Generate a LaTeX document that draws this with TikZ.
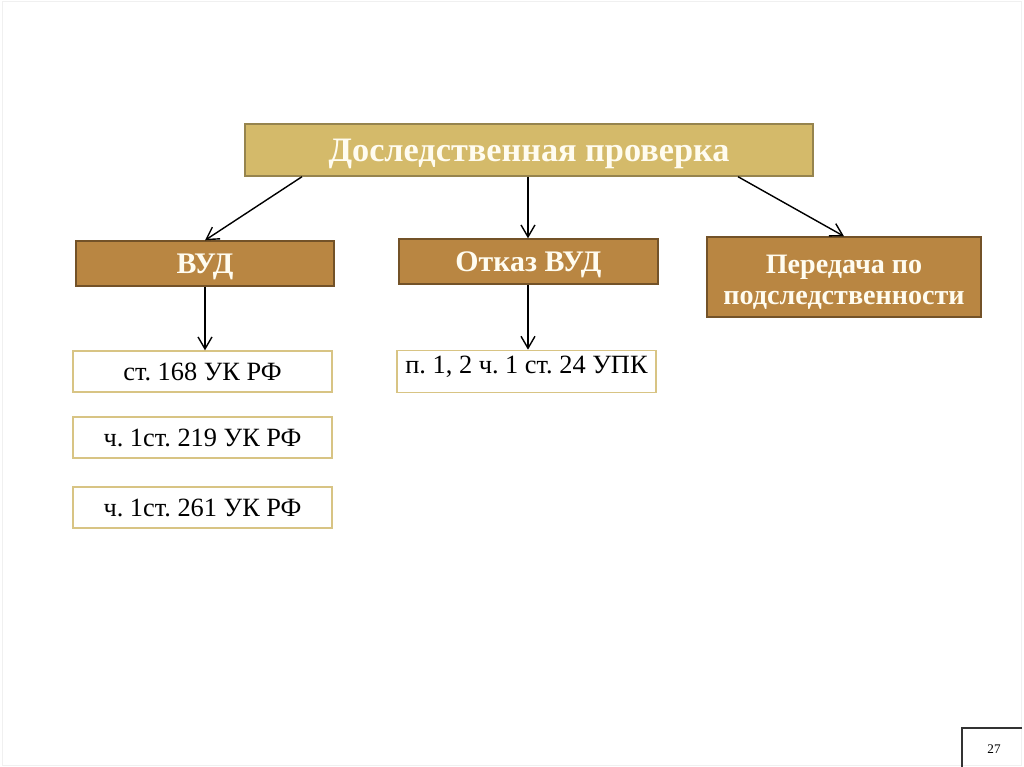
\documentclass[tikz,border=0pt]{standalone}
\usepackage{fontspec}
\setmainfont{Liberation Serif}
\usetikzlibrary{arrows.meta}
\frenchspacing

\definecolor{goldfill}{RGB}{212,186,106}
\definecolor{golddraw}{RGB}{150,132,78}
\definecolor{brownfill}{RGB}{185,134,66}
\definecolor{browndraw}{RGB}{115,82,40}
\definecolor{lightgold}{RGB}{216,196,132}
\definecolor{boxtext}{RGB}{255,252,240}

\begin{document}
\begin{tikzpicture}[x=0.02cm,y=-0.02cm,
    headbox/.style={draw=golddraw, fill=goldfill, line width=0.8pt, text=boxtext,
      font=\bfseries\fontsize{19.5}{23}\selectfont, text height=12.9pt, text depth=0pt,
      minimum width=11.36cm, minimum height=1.04cm},
    kindbox/.style={draw=browndraw, fill=brownfill, line width=0.8pt, text=boxtext,
      font=\bfseries\fontsize{17}{21}\selectfont, text height=11.2pt, text depth=0pt,
      align=center, minimum height=0.9cm},
    lawbox/.style={draw=lightgold, fill=white, line width=0.8pt,
      font=\fontsize{15}{18}\selectfont, text height=9.9pt, text depth=0pt,
      minimum width=5.18cm, minimum height=0.82cm},
    arr/.style={-{Straight Barb[length=2.4mm,width=2.8mm]}, line width=0.8pt}]

    \useasboundingbox (0,0) rectangle (1024,767);
    \draw[black!6] (2,1) rectangle (1021,765);

    % ================= TOP =================
    \node[headbox] (check) at (529,150) {Доследственная проверка};

    % ================= SECOND ROW =================
    \node[kindbox, minimum width=5.16cm] (vud) at (205,263.5) {ВУД};
    \node[kindbox, minimum width=5.18cm] (refuse) at (528.5,261.5) {Отказ ВУД};
    \node[kindbox, font=\bfseries\fontsize{16}{18}\selectfont, text height=31.8pt, text depth=0pt,
        minimum width=5.48cm, minimum height=1.6cm] (transfer) at (844,277)
        {Передача по\\подследственности};

    % ================= ARTICLES =================
    \node[lawbox] (art168) at (202.5,371.5) {ст. 168 УК РФ};
    \node[lawbox] (art219) at (202.5,437.5) {ч. 1ст. 219 УК РФ};
    \node[lawbox] (art261) at (202.5,507.5) {ч. 1ст. 261 УК РФ};
    \node[lawbox, text depth=7.5pt] (art24) at (526.5,371.5) {п. 1, 2 ч. 1 ст. 24 УПК};

    % Arrows
    \draw[arr] (check.south -| 302,0) -- (vud.north);
    \draw[arr] (check.south -| 528,0) -- (refuse.north -| 528,0);
    \draw[arr] (check.south -| 738,0) -- (transfer.north);
    \draw[arr] (vud.south) -- (art168.north -| vud.south);
    \draw[arr] (refuse.south -| 528,0) -- (art24.north -| 528,0);

    % Page number
    \draw[black!80, line width=0.6pt] (1022,728) -- (962,728) -- (962,770);
    \node[font=\fontsize{7.5}{9}\selectfont] (page) at (994,749) {27};

\end{tikzpicture}
\end{document}
